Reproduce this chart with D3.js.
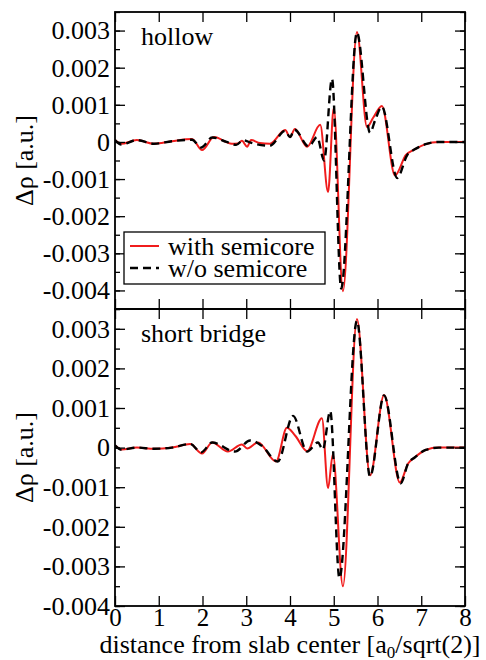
<!DOCTYPE html>
<html>
<head>
<meta charset="utf-8">
<script src="https://cdn.jsdelivr.net/npm/d3@7"></script>
<style>
  body { margin: 0; background: #fff; }
</style>
</head>
<body>
<svg id="chart" width="486" height="660"></svg>
<script>
// distance from slab center [a0/sqrt(2)], values in units of 0.001 a.u.
var hollowWithX = [0, 0.14, 0.5, 0.89, 1.3, 1.76, 1.99, 2.26, 2.67, 2.81, 2.9, 3.02, 3.11, 3.31, 3.54, 3.89, 4.0, 4.11, 4.39, 4.69, 4.87, 5.0, 5.21, 5.53, 5.76, 5.9, 6.1, 6.4, 6.65, 6.85, 7.1, 7.4, 8];
var hollowWithY = [0.05, -0.05, 0.05, -0.05, 0.02, 0.08, -0.22, 0.13, -0.05, -0.04, 0.03, -0.13, 0.05, -0.03, -0.05, 0.32, 0.13, 0.35, -0.13, 0.46, -1.35, 0.92, -4.02, 2.96, 0.4, 0.65, 0.97, -0.9, -0.35, -0.2, -0.06, 0, 0];

var hollowWoX = [0, 0.14, 0.5, 0.89, 1.3, 1.76, 1.97, 2.22, 2.55, 2.77, 2.93, 3.1, 3.54, 3.89, 4.0, 4.1, 4.43, 4.62, 4.78, 4.96, 5.17, 5.53, 5.83, 5.95, 6.1, 6.45, 6.68, 6.85, 7.1, 7.4, 8];
var hollowWoY = [0.05, -0.07, 0.05, -0.05, 0.02, 0.06, -0.15, 0.12, 0.0, -0.08, 0.05, -0.02, -0.1, 0.3, 0.13, 0.33, -0.12, 0.13, -0.5, 1.7, -3.95, 2.95, 0.25, 0.6, 0.95, -0.97, -0.35, -0.2, -0.06, 0, 0];

var bridgeWithX = [0, 0.15, 0.5, 0.9, 1.3, 1.72, 1.99, 2.22, 2.58, 2.9, 3.02, 3.27, 3.68, 3.93, 4.12, 4.39, 4.73, 4.87, 4.98, 5.21, 5.53, 5.83, 6.15, 6.51, 6.7, 6.85, 7.1, 7.4, 8];
var bridgeWithY = [0.06, -0.05, 0.0, -0.03, 0.0, 0.09, -0.15, 0.13, -0.1, 0.08, -0.02, 0.13, -0.35, 0.5, 0.3, -0.09, 0.74, -1.02, -0.17, -3.5, 3.25, -0.7, 1.33, -0.88, -0.4, -0.25, -0.06, 0, 0];

var bridgeWoX = [0, 0.15, 0.5, 0.9, 1.3, 1.72, 1.97, 2.22, 2.74, 3.09, 3.35, 3.72, 4.07, 4.39, 4.64, 4.75, 4.92, 5.13, 5.53, 5.83, 6.15, 6.53, 6.7, 6.85, 7.1, 7.4, 8];
var bridgeWoY = [0.06, -0.05, 0.0, -0.03, 0.0, 0.09, -0.12, 0.13, -0.1, 0.18, 0.05, -0.35, 0.8, -0.1, 0.13, -0.05, 0.92, -3.3, 3.2, -0.73, 1.32, -0.9, -0.4, -0.25, -0.06, 0, 0];

var xTicks = [0, 1, 2, 3, 4, 5, 6, 7, 8];
var yTicks = [-0.004, -0.003, -0.002, -0.001, 0, 0.001, 0.002, 0.003];
var seriesNames = ["with semicore", "w/o semicore"];
var panelNames = ["hollow", "short bridge"];

var FONT = "'Liberation Serif', serif";

var svg = d3.select("#chart"),
    left = 115, right = 465,
    panelTop = [12, 309], panelH = 297;

var x = d3.scaleLinear().domain([0, 8]).range([left, right]);

var panels = [
  {name: panelNames[0], domain: [-0.0045, 0.0035], red: [hollowWithX, hollowWithY], black: [hollowWoX, hollowWoY]},
  {name: panelNames[1], domain: [-0.004, 0.0035], red: [bridgeWithX, bridgeWithY], black: [bridgeWoX, bridgeWoY]}
];

function zipped(s) {
  return s[0].map(function(d, i) { return [d, s[1][i] / 1000]; });
}

function fmt(d) { return d === 0 ? "0" : d3.format(".3f")(d).replace("\u2212", "-"); }

panels.forEach(function(p, k) {
  var top = panelTop[k];
  var y = d3.scaleLinear().domain(p.domain).range([top + panelH, top]);
  var g = svg.append("g");
  var minor = d3.range(-0.0045, 0.0036, 0.0005).filter(function(v) { return v >= p.domain[0] - 1e-9 && v <= p.domain[1] + 1e-9; });

  g.append("clipPath").attr("id", "clip" + k)
    .append("rect").attr("x", left).attr("y", top).attr("width", right - left).attr("height", panelH);

  var line = d3.line()
      .x(function(d) { return x(d[0]); })
      .y(function(d) { return y(d[1]); })
      .curve(d3.curveMonotoneX);

  var lines = g.append("g").attr("clip-path", "url(#clip" + k + ")");
  lines.append("path")
      .attr("d", line(zipped(p.red)))
      .attr("fill", "none").attr("stroke", "#f01c1c").attr("stroke-width", 2);
  lines.append("path")
      .attr("d", line(zipped(p.black)))
      .attr("fill", "none").attr("stroke", "#000").attr("stroke-width", 2.4)
      .attr("stroke-dasharray", "8,5");

  // y axis left (ticks inside)
  g.append("g").attr("transform", "translate(" + left + ",0)")
      .call(d3.axisLeft(y).tickValues(yTicks.filter(function(v) { return v >= p.domain[0] && v <= p.domain[1]; }))
        .tickFormat(fmt).tickSize(-10).tickPadding(5));
  g.append("g").attr("transform", "translate(" + left + ",0)")
      .call(d3.axisLeft(y).tickValues(minor).tickFormat("").tickSize(-5));
  g.append("g").attr("transform", "translate(" + right + ",0)")
      .call(d3.axisRight(y).tickValues(yTicks).tickFormat("").tickSize(-10));
  g.append("g").attr("transform", "translate(" + right + ",0)")
      .call(d3.axisRight(y).tickValues(minor).tickFormat("").tickSize(-5));

  // x axes top & bottom
  g.append("g").attr("class", "xb").attr("transform", "translate(0," + (top + panelH) + ")")
      .call(d3.axisBottom(x).tickValues(xTicks).tickFormat(k === 1 ? d3.format("d") : "").tickSize(-10).tickPadding(2));
  g.append("g").attr("transform", "translate(0," + top + ")")
      .call(d3.axisTop(x).tickValues(xTicks).tickFormat("").tickSize(-10));

  g.selectAll(".domain").remove();
  g.selectAll("g").attr("font-family", null);
  g.selectAll(".tick line").attr("stroke", "#000").attr("stroke-width", 1.3);
  g.selectAll(".tick text").style("font-family", FONT).attr("font-size", 26).attr("fill", "#000");
  g.selectAll(".xb .tick text").attr("font-size", 25);

  g.append("rect")
      .attr("x", left).attr("y", top).attr("width", right - left).attr("height", panelH)
      .attr("fill", "none").attr("stroke", "#000").attr("stroke-width", 1.8);

  g.append("text")
      .attr("x", left + 26).attr("y", top + 33)
      .style("font-family", FONT).attr("font-size", 26).text(p.name);

  g.append("text")
      .attr("transform", "translate(33," + (top + panelH / 2) + ") rotate(-90)")
      .attr("text-anchor", "middle").style("font-family", FONT).attr("font-size", 26)
      .text("\u0394\u03c1 [a.u.]");
});

// legend
var leg = svg.append("g");
leg.append("rect").attr("x", 124).attr("y", 232).attr("width", 201).attr("height", 52)
    .attr("fill", "#fff").attr("stroke", "#000").attr("stroke-width", 1.3);
[["#f01c1c", null, 2], ["#000", "8,5", 2.4]].forEach(function(s, i) {
  var yy = 246 + i * 22;
  leg.append("line").attr("x1", 130).attr("x2", 159).attr("y1", yy).attr("y2", yy)
      .attr("stroke", s[0]).attr("stroke-width", s[2]).attr("stroke-dasharray", s[1]);
  leg.append("text").attr("x", 168).attr("y", yy + 9).style("font-family", FONT).attr("font-size", 26).text(seriesNames[i]);
});

// x label
var xl = svg.append("text").attr("x", 290).attr("y", 653).attr("text-anchor", "middle")
    .style("font-family", FONT).attr("font-size", 26);
xl.append("tspan").text("distance from slab center [a");
xl.append("tspan").attr("font-size", 17).attr("dy", 5).text("0");
xl.append("tspan").attr("dy", -5).text("/sqrt(2)]");
</script>
</body>
</html>
